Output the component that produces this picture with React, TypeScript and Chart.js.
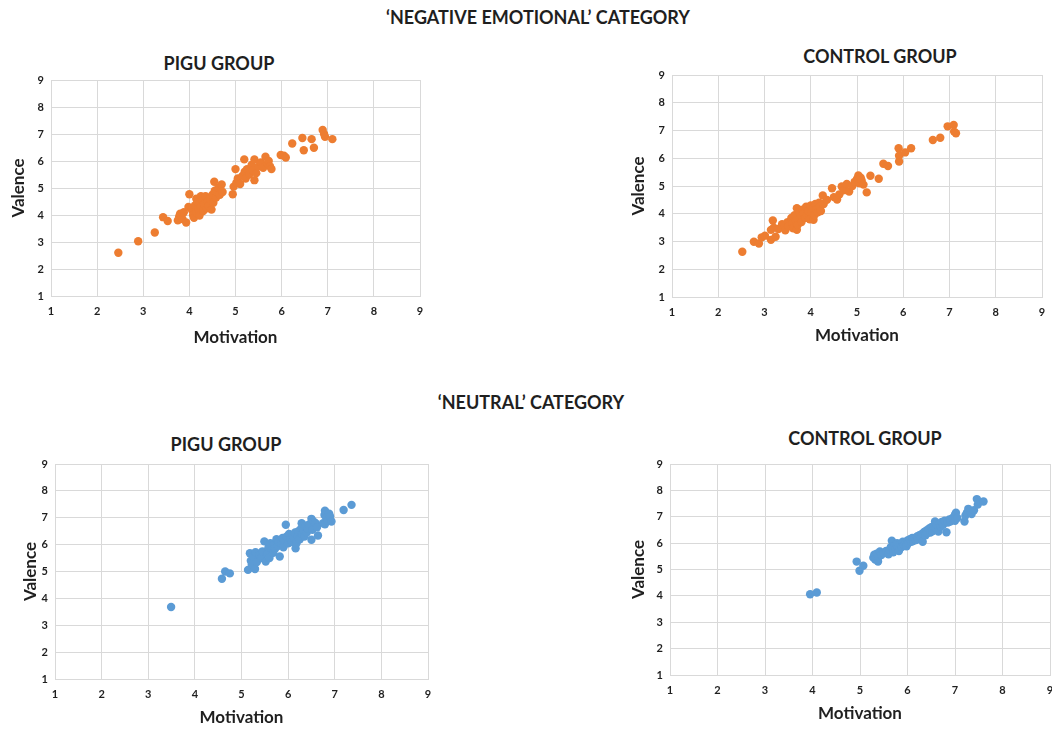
import React, { useEffect, useRef } from "react";
import { Chart, registerables } from "chart.js";

Chart.register(...registerables);

// ---------- DATA ----------
const axisTickValues = [1, 2, 3, 4, 5, 6, 7, 8, 9];
const xAxisLabel = "Motivation";
const yAxisLabel = "Valence";
const negativeHeader = "\u2018NEGATIVE EMOTIONAL\u2019 CATEGORY";
const neutralHeader = "\u2018NEUTRAL\u2019 CATEGORY";
const piguTitle = "PIGU GROUP";
const controlTitle = "CONTROL GROUP";

// 'Negative emotional' – PIGU group
const negPiguMotivation = [
  2.46, 2.89, 3.25, 3.43, 3.53, 3.75, 3.78, 3.8, 3.85, 3.88, 3.93, 3.98, 4.0, 4.05, 4.08, 4.1,
  4.12, 4.15, 4.15, 4.18, 4.2, 4.22, 4.25, 4.25, 4.28, 4.3, 4.32, 4.35, 4.38, 4.4, 4.42, 4.45,
  4.48, 4.5, 4.52, 4.54, 4.55, 4.58, 4.6, 4.63, 4.66, 4.7, 4.72, 4.94, 4.96, 5.0, 5.02, 5.05,
  5.1, 5.15, 5.19, 5.2, 5.22, 5.25, 5.3, 5.35, 5.38, 5.41, 5.41, 5.45, 5.5, 5.55, 5.6, 5.65,
  5.7, 5.72, 5.75, 5.78, 5.98, 6.05, 6.09, 6.23, 6.45, 6.48, 6.65, 6.7, 6.89, 6.92, 6.94, 7.1,
];
const negPiguValence = [
  2.6, 3.03, 3.35, 3.92, 3.78, 3.8, 3.95, 4.05, 3.85, 4.1, 3.72, 4.3, 4.77, 4.2, 4.0, 3.9,
  4.35, 4.6, 4.1, 4.45, 4.25, 3.98, 4.7, 4.3, 4.55, 4.15, 4.4, 4.7, 4.25, 4.5, 4.35, 4.6,
  4.2, 4.75, 4.45, 5.23, 4.9, 4.65, 4.85, 5.0, 4.75, 5.13, 4.85, 4.77, 5.05, 5.7, 5.2, 5.35,
  5.15, 5.45, 6.06, 5.6, 5.35, 5.7, 5.5, 5.85, 5.65, 6.06, 5.29, 5.55, 5.8, 5.95, 5.75, 6.16,
  5.9, 6.0, 5.8, 5.7, 6.22, 6.2, 6.13, 6.65, 6.85, 6.4, 6.81, 6.49, 7.15, 7.0, 6.9, 6.81,
];

// 'Negative emotional' – Control group
const negControlMotivation = [
  2.52, 2.77, 2.88, 2.94, 3.01, 3.14, 3.14, 3.18, 3.2, 3.24, 3.3, 3.38, 3.43, 3.45, 3.5, 3.52,
  3.58, 3.6, 3.62, 3.65, 3.68, 3.7, 3.7, 3.72, 3.75, 3.78, 3.8, 3.82, 3.85, 3.88, 3.9, 3.92,
  3.95, 3.98, 4.0, 4.02, 4.05, 4.06, 4.08, 4.1, 4.12, 4.15, 4.18, 4.2, 4.22, 4.26, 4.28, 4.35,
  4.46, 4.5, 4.57, 4.62, 4.67, 4.72, 4.78, 4.83, 4.9, 4.95, 5.0, 5.03, 5.05, 5.08, 5.1, 5.14,
  5.21, 5.29, 5.47, 5.57, 5.67, 5.9, 5.91, 5.91, 6.04, 6.17, 6.64, 6.8, 6.96, 7.09, 7.1, 7.14,
];
const negControlValence = [
  2.63, 2.99, 2.93, 3.15, 3.21, 3.06, 3.42, 3.76, 3.5, 3.17, 3.45, 3.62, 3.6, 3.4, 3.7, 3.55,
  3.85, 3.65, 3.48, 3.95, 3.75, 3.42, 4.2, 3.6, 4.05, 3.9, 3.7, 4.15, 4.0, 3.85, 4.25, 3.95,
  4.1, 3.8, 4.3, 4.05, 4.2, 3.78, 3.95, 4.35, 4.15, 4.05, 4.4, 4.25, 4.1, 4.66, 4.35, 4.5,
  4.92, 4.6, 4.51, 4.7, 4.98, 4.85, 5.07, 4.8, 5.0, 5.15, 5.25, 5.38, 5.1, 5.3, 5.2, 5.05,
  4.77, 5.37, 5.26, 5.8, 5.72, 6.36, 6.09, 5.88, 6.21, 6.36, 6.66, 6.74, 7.15, 7.2, 6.96, 6.9,
];

// 'Neutral' – PIGU group
const neuPiguMotivation = [
  3.49, 4.58, 4.65, 4.75, 5.14, 5.18, 5.2, 5.22, 5.25, 5.29, 5.3, 5.33, 5.38, 5.42, 5.45, 5.49,
  5.52, 5.55, 5.58, 5.6, 5.62, 5.65, 5.68, 5.7, 5.72, 5.75, 5.78, 5.8, 5.82, 5.85, 5.88, 5.9,
  5.92, 5.95, 5.97, 6.0, 6.02, 6.05, 6.08, 6.1, 6.12, 6.15, 6.16, 6.18, 6.2, 6.22, 6.25, 6.28,
  6.29, 6.3, 6.33, 6.35, 6.38, 6.4, 6.42, 6.45, 6.5, 6.5, 6.52, 6.55, 6.59, 6.62, 6.64, 6.75,
  6.78, 6.79, 6.79, 6.82, 6.85, 6.88, 6.9, 6.93, 7.19, 7.36,
];
const neuPiguValence = [
  3.68, 4.73, 5.0, 4.93, 5.06, 5.68, 5.4, 5.25, 5.55, 5.09, 5.72, 5.35, 5.6, 5.5, 5.75, 6.12,
  5.37, 5.65, 5.9, 5.5, 6.05, 5.8, 5.7, 6.0, 5.85, 6.2, 5.95, 6.1, 5.56, 6.05, 6.25, 5.9,
  6.15, 6.74, 6.3, 6.05, 6.4, 6.2, 6.1, 6.35, 6.25, 6.45, 5.86, 6.05, 6.3, 6.5, 6.2, 6.6,
  6.8, 6.4, 6.55, 6.3, 6.7, 6.45, 6.6, 6.75, 6.18, 6.96, 6.55, 6.85, 6.8, 6.65, 6.34, 6.8,
  7.1, 7.26, 6.76, 7.0, 6.9, 7.15, 7.05, 6.86, 7.29, 7.48,
];

// 'Neutral' – Control group
const neuControlMotivation = [
  3.95, 4.09, 4.93, 4.99, 5.07, 5.28, 5.3, 5.32, 5.35, 5.38, 5.4, 5.42, 5.45, 5.5, 5.55, 5.6,
  5.62, 5.65, 5.67, 5.7, 5.72, 5.75, 5.78, 5.8, 5.82, 5.85, 5.88, 5.9, 5.92, 5.95, 5.98, 6.0,
  6.02, 6.05, 6.08, 6.1, 6.12, 6.15, 6.18, 6.2, 6.22, 6.25, 6.28, 6.3, 6.32, 6.35, 6.38, 6.4,
  6.42, 6.45, 6.48, 6.5, 6.52, 6.55, 6.58, 6.6, 6.62, 6.65, 6.68, 6.7, 6.72, 6.75, 6.78, 6.82,
  6.85, 6.88, 6.9, 6.95, 7.0, 7.0, 7.02, 7.05, 7.2, 7.22, 7.25, 7.28, 7.32, 7.35, 7.4, 7.46,
  7.48, 7.6,
];
const neuControlValence = [
  4.06, 4.13, 5.3, 4.95, 5.14, 5.45, 5.56, 5.38, 5.6, 5.3, 5.5, 5.68, 5.55, 5.62, 5.7, 5.58,
  5.75, 5.85, 6.09, 5.65, 5.9, 5.78, 6.0, 5.82, 5.7, 5.95, 5.85, 6.05, 5.92, 6.0, 5.88, 6.1,
  6.0, 6.15, 6.05, 6.2, 6.08, 6.18, 6.12, 6.25, 6.15, 6.3, 6.2, 6.35, 6.05, 6.42, 6.3, 6.48,
  6.38, 6.55, 6.4, 6.6, 6.45, 6.65, 6.82, 6.55, 6.7, 6.44, 6.75, 6.62, 6.8, 6.7, 6.85, 6.41,
  6.78, 6.9, 6.82, 6.95, 7.08, 6.85, 7.15, 6.95, 6.82, 7.05, 7.15, 7.3, 7.2, 7.1, 7.25, 7.67,
  7.46, 7.58,
];

const ORANGE = "#ED7D31";
const BLUE = "#5B9BD5";
const GRID = "#D9D9D9";
const TEXT = "#1f1f1f";
const FONT = "Lato, 'Liberation Sans', sans-serif";

type PanelProps = {
  left: number;
  top: number;
  width: number;
  height: number;
  yAxisW: number;
  xAxisH: number;
  padT: number;
  padR: number;
  color: string;
  xs: number[];
  ys: number[];
};

function ScatterPanel(p: PanelProps) {
  const ref = useRef<HTMLCanvasElement | null>(null);
  useEffect(() => {
    if (!ref.current) return;
    const data = p.xs.map((x, i) => ({ x, y: p.ys[i] }));
    const tickFont = { family: FONT, size: 11, weight: "bold" as const };
    const titleFont = { family: FONT, size: 17, weight: "bold" as const };
    const chart = new Chart(ref.current, {
      type: "scatter",
      data: {
        datasets: [
          {
            data,
            backgroundColor: p.color,
            borderColor: p.color,
            pointRadius: 4.2,
            pointHoverRadius: 4.2,
            borderWidth: 0,
          },
        ],
      },
      options: {
        animation: false,
        responsive: false,
        maintainAspectRatio: false,
        layout: { autoPadding: false, padding: { top: p.padT, right: p.padR, left: 0, bottom: 0 } },
        plugins: { legend: { display: false }, tooltip: { enabled: false }, title: { display: false } },
        scales: {
          x: {
            type: "linear",
            min: axisTickValues[0],
            max: axisTickValues[axisTickValues.length - 1],
            afterBuildTicks: (s: any) => {
              s.ticks = axisTickValues.map((v) => ({ value: v }));
            },
            afterFit: (s: any) => {
              s.height = p.xAxisH;
              s.paddingLeft = 0;
              s.paddingRight = 0;
            },
            grid: { color: GRID, lineWidth: 1, drawTicks: false },
            border: { color: GRID, width: 1 },
            ticks: { font: tickFont, color: TEXT, padding: 9, maxRotation: 0, autoSkip: false },
            title: { display: true, text: xAxisLabel, font: titleFont, color: TEXT, padding: 0 },
          },
          y: {
            type: "linear",
            min: axisTickValues[0],
            max: axisTickValues[axisTickValues.length - 1],
            afterBuildTicks: (s: any) => {
              s.ticks = axisTickValues.map((v) => ({ value: v }));
            },
            afterFit: (s: any) => {
              s.width = p.yAxisW;
              s.paddingTop = 0;
              s.paddingBottom = 0;
            },
            grid: { color: GRID, lineWidth: 1, drawTicks: false },
            border: { color: GRID, width: 1 },
            ticks: { font: tickFont, color: TEXT, padding: 7, autoSkip: false },
            title: { display: true, text: yAxisLabel, font: titleFont, color: TEXT, padding: 0 },
          },
        },
      },
    } as any);
    return () => chart.destroy();
  }, []);
  return (
    <canvas
      ref={ref}
      width={p.width}
      height={p.height}
      style={{ position: "absolute", left: p.left, top: p.top, width: p.width, height: p.height }}
    />
  );
}

function Label(props: { text: string; cx: number; cy: number; size: number }) {
  return (
    <div
      style={{
        position: "absolute",
        left: props.cx,
        top: props.cy - props.size / 2,
        transform: "translateX(-50%)",
        fontFamily: FONT,
        fontWeight: 700,
        fontSize: props.size,
        lineHeight: `${props.size}px`,
        color: TEXT,
        whiteSpace: "nowrap",
      }}
    >
      {props.text}
    </div>
  );
}

export default function App() {
  return (
    <div
      style={{
        position: "absolute",
        left: 0,
        top: 0,
        width: 1052,
        height: 729,
        overflow: "hidden",
        background: "#ffffff",
      }}
    >
      <Label text={negativeHeader} cx={538} cy={17} size={18} />
      <Label text={piguTitle} cx={219} cy={63} size={18} />
      <Label text={controlTitle} cx={880} cy={56} size={18} />
      <Label text={neutralHeader} cx={531} cy={402} size={18} />
      <Label text={piguTitle} cx={226} cy={444} size={18} />
      <Label text={controlTitle} cx={865} cy={438} size={18} />

      <ScatterPanel left={8} top={72} width={420} height={276} yAxisW={43} xAxisH={52} padT={8} padR={8}
        color={ORANGE} xs={negPiguMotivation} ys={negPiguValence} />
      <ScatterPanel left={628} top={67} width={422} height={279} yAxisW={44} xAxisH={49} padT={8} padR={8}
        color={ORANGE} xs={negControlMotivation} ys={negControlValence} />
      <ScatterPanel left={20} top={456} width={416} height={272} yAxisW={35} xAxisH={49} padT={8} padR={8}
        color={BLUE} xs={neuPiguMotivation} ys={neuPiguValence} />
      <ScatterPanel left={628} top={456} width={430} height={268} yAxisW={42} xAxisH={49} padT={8} padR={8}
        color={BLUE} xs={neuControlMotivation} ys={neuControlValence} />
    </div>
  );
}
